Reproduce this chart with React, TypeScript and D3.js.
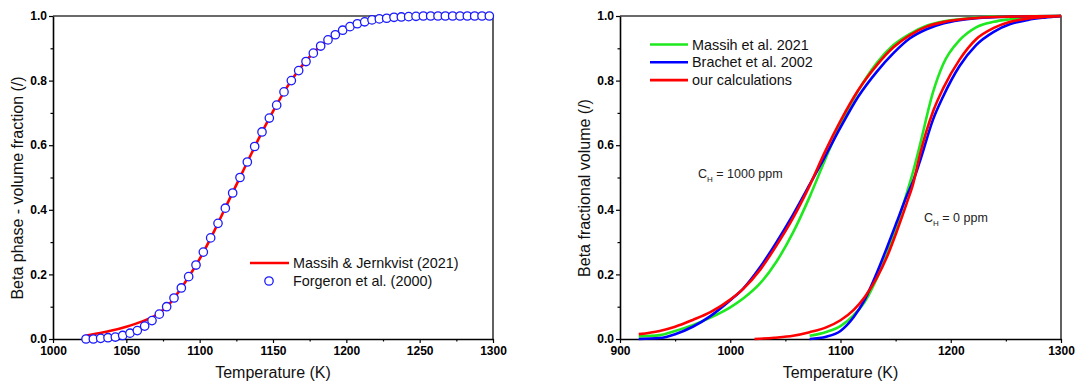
import React, { useEffect, useRef } from "react";
import * as d3 from "d3";

const W = 1077;
const H = 385;
const FONT = "'Liberation Sans', Arial, Helvetica, sans-serif";

// ---- left panel: Massih & Jernkvist model line
const leftLineT = [1022, 1030, 1040, 1050, 1060, 1070, 1080, 1090, 1100, 1110, 1120, 1130, 1140, 1150, 1160, 1170, 1180, 1190, 1200, 1210, 1220, 1230, 1240, 1250, 1260, 1280, 1300];
const leftLineV = [0.010, 0.017, 0.026, 0.038, 0.053, 0.073, 0.112, 0.175, 0.248, 0.335, 0.43, 0.524, 0.618, 0.705, 0.783, 0.847, 0.897, 0.934, 0.959, 0.975, 0.986, 0.993, 0.997, 0.999, 1.0, 1.0, 1.0];

// ---- left panel: Forgeron et al. measurements
const leftDotT = [1022.5, 1027.5, 1032.5, 1037.5, 1042.5, 1047.5, 1052.5, 1057.5, 1062.5, 1067.5, 1072.5, 1077.5, 1082.5, 1087.5, 1092.5, 1097.5, 1102.5, 1107.5, 1112.5, 1117.5, 1122.5, 1127.5, 1132.5, 1137.5, 1142.5, 1147.5, 1152.5, 1157.5, 1162.5, 1167.5, 1172.5, 1177.5, 1182.5, 1187.5, 1192.5, 1197.5, 1202.5, 1207.5, 1212.5, 1217.5, 1222.5, 1227.5, 1232.5, 1237.5, 1242.5, 1247.5, 1252.5, 1257.5, 1262.5, 1267.5, 1272.5, 1277.5, 1282.5, 1287.5, 1292.5, 1297.5];
const leftDotV = [0.0, 0.0, 0.002, 0.004, 0.006, 0.011, 0.018, 0.026, 0.040, 0.057, 0.077, 0.100, 0.127, 0.158, 0.193, 0.229, 0.269, 0.313, 0.358, 0.405, 0.452, 0.500, 0.548, 0.596, 0.641, 0.684, 0.724, 0.765, 0.800, 0.831, 0.859, 0.885, 0.907, 0.926, 0.942, 0.956, 0.967, 0.976, 0.982, 0.988, 0.991, 0.993, 0.996, 0.997, 0.998, 0.999, 1.0, 1.0, 1.0, 1.0, 1.0, 1.0, 1.0, 1.0, 1.0, 1.0];

// ---- right panel, C_H = 1000 ppm
const h1000T = [917, 936, 950, 966, 982, 1000, 1012, 1027, 1042, 1057, 1072, 1086, 1100, 1116, 1133, 1148, 1163, 1178, 1193, 1208, 1223, 1254, 1300];
const h1000Green = [0.008, 0.012, 0.025, 0.043, 0.066, 0.098, 0.126, 0.172, 0.24, 0.33, 0.44, 0.555, 0.665, 0.768, 0.855, 0.91, 0.945, 0.97, 0.983, 0.99, 0.995, 0.999, 1.0];
const h1000Blue = [0.0, 0.003, 0.015, 0.038, 0.071, 0.12, 0.157, 0.222, 0.30, 0.385, 0.478, 0.565, 0.655, 0.75, 0.828, 0.885, 0.931, 0.959, 0.977, 0.987, 0.993, 0.998, 1.0];
const h1000Red = [0.015, 0.025, 0.038, 0.059, 0.083, 0.122, 0.156, 0.214, 0.29, 0.375, 0.475, 0.58, 0.675, 0.77, 0.848, 0.903, 0.941, 0.967, 0.981, 0.989, 0.994, 0.998, 1.0];

// ---- right panel, C_H = 0 ppm
const h0RedT = [1022, 1040, 1057, 1072, 1087, 1100, 1112, 1122, 1133, 1142, 1151, 1160, 1166, 1172, 1184, 1193, 1208, 1223, 1239, 1254, 1270, 1285, 1300];
const h0Red = [0.0, 0.004, 0.010, 0.021, 0.036, 0.058, 0.09, 0.13, 0.19, 0.253, 0.333, 0.42, 0.482, 0.57, 0.705, 0.775, 0.865, 0.928, 0.963, 0.982, 0.992, 0.997, 1.0];
const h0T = [1072, 1087, 1100, 1112, 1122, 1133, 1142, 1151, 1160, 1166, 1172, 1184, 1193, 1208, 1223, 1239, 1254, 1270, 1285, 1300];
const h0Green = [0.01, 0.022, 0.04, 0.074, 0.115, 0.188, 0.262, 0.35, 0.45, 0.52, 0.60, 0.765, 0.85, 0.925, 0.965, 0.982, 0.99, 0.996, 0.999, 1.0];
const h0Blue = [0.0, 0.007, 0.025, 0.068, 0.122, 0.205, 0.282, 0.362, 0.443, 0.49, 0.55, 0.68, 0.75, 0.845, 0.91, 0.951, 0.975, 0.988, 0.995, 1.0];

const rightNames = ["Massih et al. 2021", "Brachet et al. 2002", "our calculations"];
const rightColors = ["#1ee81e", "#0000ff", "#ff0000"];

const yTicks = [0, 0.2, 0.4, 0.6, 0.8, 1.0];
const yMinor = [0.1, 0.3, 0.5, 0.7, 0.9];

function zip(t: number[], v: number[]) {
  return t.map((d, i) => [d, v[i]] as [number, number]);
}

function drawFrame(svg: any, opts: any) {
  const { left, right, top, bottom, xDomain, xTicks, xMinor, yTitle, yTitleX } = opts;
  const x = d3.scaleLinear().domain(xDomain).range([left, right]);
  const y = d3.scaleLinear().domain([0, 1]).range([bottom, top]);

  // top + right border
  svg.append("path")
    .attr("d", `M${left},${top}H${right}V${bottom}`)
    .attr("fill", "none")
    .attr("stroke", "#3a3a3a")
    .attr("stroke-width", 1.6);

  // minor ticks
  svg.append("g")
    .attr("transform", "translate(0," + bottom + ")")
    .call(d3.axisBottom(x).tickValues(xMinor).tickFormat(() => "").tickSize(2.5).tickSizeOuter(0))
    .call((g: any) => g.select(".domain").remove())
    .selectAll("line").attr("stroke", "#000").attr("stroke-width", 1.2);
  svg.append("g")
    .attr("transform", "translate(" + left + ",0)")
    .call(d3.axisLeft(y).tickValues(yMinor).tickFormat(() => "").tickSize(2.5).tickSizeOuter(0))
    .call((g: any) => g.select(".domain").remove())
    .selectAll("line").attr("stroke", "#000").attr("stroke-width", 1.2);

  // X axis
  const gx = svg.append("g")
    .attr("transform", "translate(0," + bottom + ")")
    .call(d3.axisBottom(x).tickValues(xTicks).tickFormat(d3.format("d")).tickSize(4).tickPadding(3).tickSizeOuter(0));
  gx.select(".domain").attr("stroke", "#000").attr("stroke-width", 1.6);
  gx.selectAll("line").attr("stroke", "#000").attr("stroke-width", 1.2);
  gx.selectAll("text")
    .style("font-family", FONT)
    .style("font-size", "12px")
    .style("font-weight", "bold")
    .attr("fill", "#000");

  // Y axis
  const gy = svg.append("g")
    .attr("transform", "translate(" + left + ",0)")
    .call(d3.axisLeft(y).tickValues(yTicks).tickFormat(d3.format(".1f")).tickSize(4).tickPadding(2).tickSizeOuter(0));
  gy.select(".domain").attr("stroke", "#000").attr("stroke-width", 1.6);
  gy.selectAll("line").attr("stroke", "#000").attr("stroke-width", 1.2);
  gy.selectAll("text")
    .attr("dy", "0.3em")
    .style("font-family", FONT)
    .style("font-size", "12px")
    .style("font-weight", "bold")
    .attr("fill", "#000");

  // axis titles
  svg.append("text")
    .attr("x", (left + right) / 2)
    .attr("y", 378)
    .attr("text-anchor", "middle")
    .style("font-family", FONT)
    .style("font-size", "16px")
    .attr("fill", "#111")
    .text("Temperature (K)");
  svg.append("text")
    .attr("transform", "translate(" + yTitleX + ",188) rotate(-90)")
    .attr("text-anchor", "middle")
    .attr("dy", "0.35em")
    .style("font-family", FONT)
    .style("font-size", "16px")
    .attr("fill", "#111")
    .text(yTitle);

  return { x, y };
}

function drawChart(node: SVGSVGElement) {
  const svg = d3.select(node);
  svg.selectAll("*").remove();

  // ---------- left panel
  const L = drawFrame(svg, {
    left: 53, right: 493, top: 16, bottom: 339,
    xDomain: [1000, 1300],
    xTicks: [1000, 1050, 1100, 1150, 1200, 1250, 1300],
    xMinor: [1025, 1075, 1125, 1175, 1225, 1275],
    yTitle: "Beta phase - volume fraction (/)",
    yTitleX: 17,
  });
  const lineL = d3.line<[number, number]>()
    .x(d => L.x(d[0]))
    .y(d => L.y(d[1]))
    .curve(d3.curveMonotoneX);

  svg.append("path")
    .datum(zip(leftLineT, leftLineV))
    .attr("fill", "none")
    .attr("stroke", "#ff0000")
    .attr("stroke-width", 2.6)
    .attr("d", lineL);

  svg.append("g")
    .selectAll("circle")
    .data(zip(leftDotT, leftDotV))
    .enter()
    .append("circle")
    .attr("cx", d => L.x(d[0]))
    .attr("cy", d => L.y(d[1]))
    .attr("r", 4.2)
    .attr("fill", "#fff")
    .attr("stroke", "#1a1aff")
    .attr("stroke-width", 1.3);

  // left legend
  svg.append("line")
    .attr("x1", 250).attr("x2", 289).attr("y1", 263).attr("y2", 263)
    .attr("stroke", "#ff0000").attr("stroke-width", 2.6);
  svg.append("circle")
    .attr("cx", 269).attr("cy", 281).attr("r", 4.2)
    .attr("fill", "#fff").attr("stroke", "#1a1aff").attr("stroke-width", 1.3);
  [["Massih & Jernkvist (2021)", 263], ["Forgeron et al. (2000)", 281]].forEach(([t, yy]) => {
    svg.append("text")
      .attr("x", 293).attr("y", yy as number).attr("dy", "0.36em")
      .style("font-family", FONT).style("font-size", "14.4px").attr("fill", "#111")
      .text(t as string);
  });

  // ---------- right panel
  const R = drawFrame(svg, {
    left: 620, right: 1061, top: 16, bottom: 339,
    xDomain: [900, 1300],
    xTicks: [900, 1000, 1100, 1200, 1300],
    xMinor: [950, 1050, 1150, 1250],
    yTitle: "Beta fractional volume (/)",
    yTitleX: 584,
  });
  const lineR = d3.line<[number, number]>()
    .x(d => R.x(d[0]))
    .y(d => R.y(d[1]))
    .curve(d3.curveMonotoneX);

  const curves: [number[], number[], number][] = [
    [h1000T, h1000Green, 0],
    [h0T, h0Green, 0],
    [h1000T, h1000Blue, 1],
    [h0T, h0Blue, 1],
    [h1000T, h1000Red, 2],
    [h0RedT, h0Red, 2],
  ];
  svg.append("g")
    .selectAll("path")
    .data(curves)
    .enter()
    .append("path")
    .attr("fill", "none")
    .attr("stroke", d => rightColors[d[2]])
    .attr("stroke-width", 2.6)
    .attr("d", d => lineR(zip(d[0], d[1])));

  // right legend
  const leg = svg.append("g");
  rightNames.forEach((name, i) => {
    const yy = 44.5 + i * 17.8;
    leg.append("line")
      .attr("x1", 650).attr("x2", 688).attr("y1", yy).attr("y2", yy)
      .attr("stroke", rightColors[i]).attr("stroke-width", 2.6);
    leg.append("text")
      .attr("x", 692).attr("y", yy).attr("dy", "0.36em")
      .style("font-family", FONT).style("font-size", "14.4px").attr("fill", "#111")
      .text(name);
  });

  // annotations
  const note = (xx: number, yy: number, rest: string) => {
    const t = svg.append("text")
      .attr("x", xx).attr("y", yy)
      .style("font-family", FONT).style("font-size", "12.5px").attr("fill", "#222");
    t.append("tspan").text("C");
    t.append("tspan").attr("dy", 4).style("font-size", "8px").text("H");
    t.append("tspan").attr("dy", -4).text(rest);
  };
  note(698, 178, " = 1000 ppm");
  note(924, 222, " = 0 ppm");
}

export default function App() {
  const ref = useRef<SVGSVGElement>(null);
  useEffect(() => {
    if (ref.current) drawChart(ref.current);
  }, []);
  return (
    <svg
      ref={ref}
      width={W}
      height={H}
      style={{ position: "absolute", left: 0, top: 0, background: "#fff" }}
    />
  );
}
